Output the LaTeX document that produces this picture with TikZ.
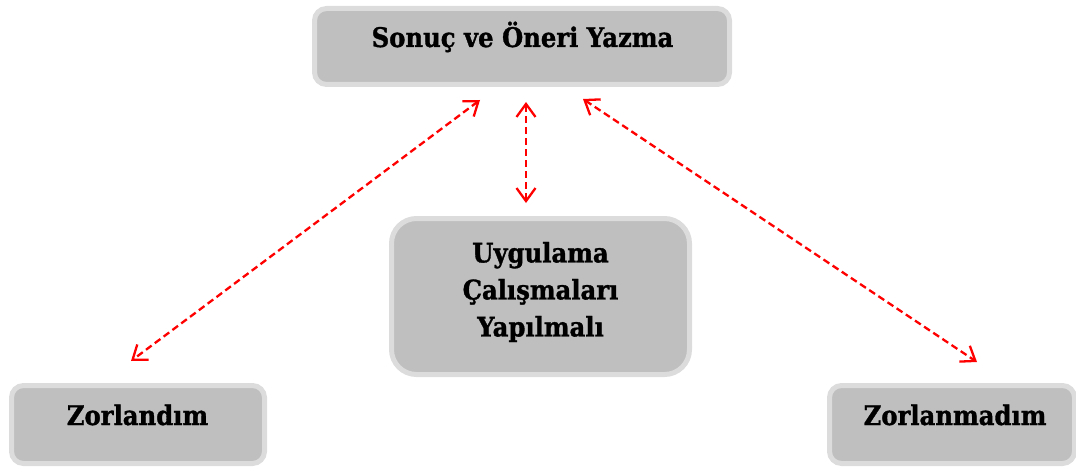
\documentclass[tikz,border=0pt]{standalone}
\usepackage{fontspec}
\setmainfont{DejaVu Serif}[FakeStretch=0.9, BoldFeatures={FakeBold=1.2}]
\usetikzlibrary{arrows.meta}
\definecolor{boxfill}{HTML}{BFBFBF}
\definecolor{boxedge}{HTML}{DCDCDC}
\begin{document}
\begin{tikzpicture}[x=1pt,y=-1pt,
  box/.style={draw=boxedge, fill=boxfill, line width=5pt, rounded corners=12pt, inner sep=0pt},
  lbl/.style={font=\bfseries\fontsize{27}{37}\selectfont, inner sep=0pt, align=center},
  tipb/.tip={Straight Barb[length=13pt,width=19pt]},
  link/.style={draw=red, line width=2.3pt, dash pattern=on 7pt off 4pt, tipb-tipb}]
\useasboundingbox (0,0) rectangle (1076,468);
% boxes
\node[box, minimum width=415pt, minimum height=76pt] (top) at (522,46.5) {};
\node[box, rounded corners=25pt, minimum width=298pt, minimum height=156pt] (mid) at (540.5,296.5) {};
\node[box, minimum width=253pt, minimum height=78pt] (left) at (138,424.5) {};
\node[box, minimum width=245pt, minimum height=78pt] (right) at (952,424.5) {};
% labels
\node[lbl, anchor=base] (toptext) at (522.5,47) {Sonuç ve Öneri Yazma};
\node[lbl] (midtext) at (540.5,292) {Uygulama\\Çalışmaları\\Yapılmalı};
\node[lbl, anchor=base] (lefttext) at (137.5,425) {Zorlandım};
\node[lbl, anchor=base] (righttext) at (955,425) {Zorlanmadım};
% arrow ends
\coordinate (a1) at (480,100);
\coordinate (a2) at (131,361);
\coordinate (b1) at (526,102);
\coordinate (b2) at (526,203);
\coordinate (c1) at (583,99);
\coordinate (c2) at (977,362);
\draw[link] (a1) -- (a2);
\draw[link] (b1) -- (b2);
\draw[link] (c1) -- (c2);
\end{tikzpicture}
\end{document}
